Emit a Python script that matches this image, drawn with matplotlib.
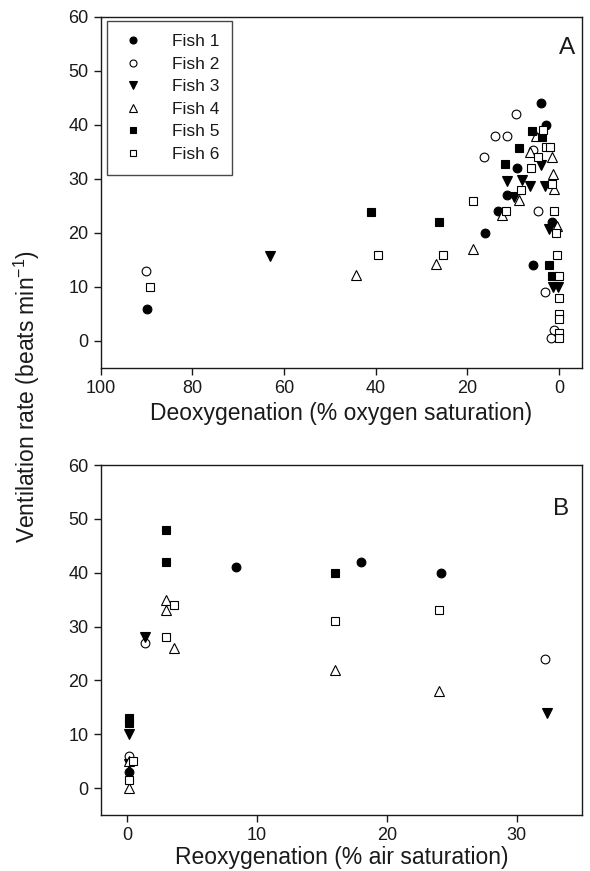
import matplotlib
matplotlib.use("Agg")
import matplotlib.pyplot as plt

plt.rcParams['font.family'] = ['Liberation Sans', 'DejaVu Sans']
plt.rcParams['mathtext.fontset'] = 'custom'
plt.rcParams['mathtext.rm'] = 'Liberation Sans'
plt.rcParams['mathtext.it'] = 'Liberation Sans:italic'
plt.rcParams['mathtext.default'] = 'regular'

fish_labels = ["Fish 1", "Fish 2", "Fish 3", "Fish 4", "Fish 5", "Fish 6"]

# Panel A: deoxygenation (% oxygen saturation) vs ventilation rate
a_f1_x = [90, 16.2, 13.2, 11.4, 9.1, 5.6, 4.0, 2.9, 1.4]
a_f1_y = [6, 20, 24, 27, 32, 14, 44, 40, 22]
a_f2_x = [90.2, 16.4, 13.9, 11.4, 9.3, 5.6, 4.5, 3.1, 1.8, 1.0]
a_f2_y = [13, 34, 38, 38, 42, 35.4, 24, 9, 0.5, 2]
a_f3_x = [63, 11.4, 9.8, 8.0, 6.4, 3.9, 3.1, 2.2, 1.2, 0.1]
a_f3_y = [15.8, 29.6, 26.7, 29.8, 28.7, 32.5, 28.7, 20.8, 10, 10]
a_f4_x = [44.4, 26.9, 18.8, 12.4, 8.7, 6.2, 5.0, 1.6, 1.2, 1.0, 0.5]
a_f4_y = [12.2, 14.2, 17.1, 23.3, 26.1, 35, 37.9, 34, 31, 28.1, 21.3]
a_f5_x = [41, 26.1, 11.8, 8.7, 5.9, 3.6, 2.2, 1.6]
a_f5_y = [23.9, 22, 32.8, 35.7, 38.9, 37.7, 14, 12]
a_f6_x = [89.2, 39.4, 25.4, 18.7, 11.5, 8.3, 6.0, 4.5, 3.4, 2.9, 1.9, 1.4, 1.1,
          0.7, 0.4, 0, 0, 0, 0, 0, 0]
a_f6_y = [10, 15.9, 15.9, 25.9, 24, 28, 32, 34, 39, 36, 36, 29, 24,
          20, 16, 12, 8, 5, 4, 1.5, 0.5]

# Panel B: reoxygenation (% air saturation) vs ventilation rate
b_f1_x = [0.15, 8.4, 18, 24.2]
b_f1_y = [3, 41, 42, 40]
b_f2_x = [1.4, 0.15, 32.2]
b_f2_y = [27, 6, 24]
b_f3_x = [1.4, 0.15, 0.15, 32.3]
b_f3_y = [28, 10, 4.5, 14]
b_f4_x = [3.0, 3.0, 3.6, 0.15, 0.15, 16, 24]
b_f4_y = [35, 33, 26, 5, 0, 22, 18]
b_f5_x = [3.0, 3.0, 0.15, 0.15, 16]
b_f5_y = [48, 42, 13, 12, 40]
b_f6_x = [3.6, 3.0, 0.5, 0.15, 16, 24]
b_f6_y = [34, 28, 5, 1.5, 31, 33]

a_x_ticks = [100, 80, 60, 40, 20, 0]
b_x_ticks = [0, 10, 20, 30]
y_ticks = [0, 10, 20, 30, 40, 50, 60]

styles = [
    dict(marker='o', mfc='black', mec='black', ms=6.3),
    dict(marker='o', mfc='white', mec='black', ms=6.3),
    dict(marker='v', mfc='black', mec='black', ms=7.0),
    dict(marker='^', mfc='white', mec='black', ms=7.0),
    dict(marker='s', mfc='black', mec='black', ms=5.8),
    dict(marker='s', mfc='white', mec='black', ms=5.8),
]

a_data = [(a_f1_x, a_f1_y), (a_f2_x, a_f2_y), (a_f3_x, a_f3_y),
          (a_f4_x, a_f4_y), (a_f5_x, a_f5_y), (a_f6_x, a_f6_y)]
b_data = [(b_f1_x, b_f1_y), (b_f2_x, b_f2_y), (b_f3_x, b_f3_y),
          (b_f4_x, b_f4_y), (b_f5_x, b_f5_y), (b_f6_x, b_f6_y)]

fig = plt.figure(figsize=(5.90, 8.71), dpi=100)
axA = fig.add_axes([0.171, 0.5775, 0.815, 0.403])
axB = fig.add_axes([0.171, 0.0643, 0.815, 0.4018])

txt = '#1a1a1a'
for ax, data in ((axA, a_data), (axB, b_data)):
    for (x, y), st, lab in zip(data, styles, fish_labels):
        ax.plot(x, y, linestyle='none', mew=0.8, label=lab, clip_on=False, **st)
    ax.set_ylim(-5, 60)
    ax.set_yticks(y_ticks)
    for sp in ax.spines.values():
        sp.set_linewidth(1.0)
        sp.set_color(txt)
    ax.tick_params(direction='out', length=5, width=1.0, labelsize=13,
                   colors=txt, pad=4)

axA.set_xlim(100, -5)
axA.set_xticks(a_x_ticks)
axA.set_xlabel("Deoxygenation (% oxygen saturation)", fontsize=16.5, color=txt, labelpad=3)
axA.text(0.970, 0.912, "A", transform=axA.transAxes, fontsize=17.5,
         ha='center', va='center', color=txt)

axB.set_xlim(-2, 35)
axB.set_xticks(b_x_ticks)
axB.set_xlabel("Reoxygenation (% air saturation)", fontsize=16.5, color=txt, labelpad=1)
axB.text(0.958, 0.874, "B", transform=axB.transAxes, fontsize=17.5,
         ha='center', va='center', color=txt)

leg = axA.legend(loc='upper left', bbox_to_anchor=(0.012, 0.988), borderaxespad=0,
                 fontsize=12.5, frameon=True, fancybox=False, markerscale=0.8,
                 handlelength=1.5, handletextpad=1.5, labelspacing=0.42,
                 borderpad=0.75)
leg.get_frame().set_edgecolor(txt)
leg.get_frame().set_linewidth(1.0)
for t in leg.get_texts():
    t.set_color(txt)

fig.text(0.045, 0.545, r"Ventilation rate (beats min$^{-1}$)", rotation=90,
         fontsize=16.5, ha='center', va='center', color=txt)

fig.savefig("out.png", dpi=100)
